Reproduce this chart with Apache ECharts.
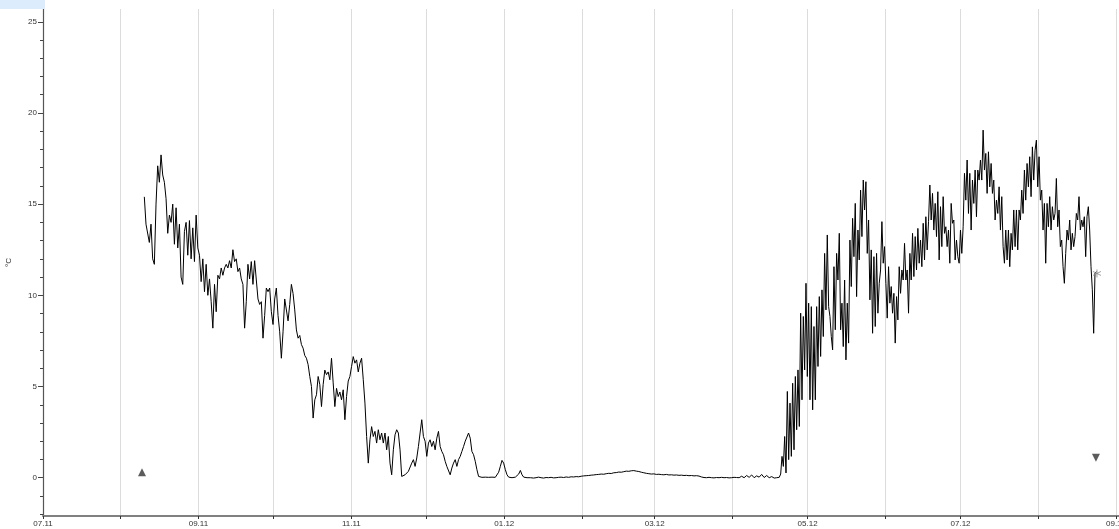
<!DOCTYPE html>
<html>
<head>
<meta charset="utf-8">
<script src="https://cdn.jsdelivr.net/npm/echarts@6/dist/echarts.min.js"></script>
<style>
  html, body { margin: 0; padding: 0; background: #fff; }
  #chart { width: 1119px; height: 529px; }
</style>
</head>
<body>
<div id="chart"></div>
<script>
const HOUR = 3600e3;
const DAY = 24 * HOUR;
const utc = (y, m, d, h) => Date.UTC(y, m - 1, d, h || 0);

// Temperature logger readings (°C), stored as runs of equally spaced samples
const autumnStart = utc(2011, 8, 10, 10);
const autumnStepHours = 16;
const autumnTemps = [
  15.4, 13.9, 14.0, 12.9, 13.9, 12.0, 11.7, 15.0, 17.1, 16.2,
  17.7, 16.6, 16.2, 15.3, 13.4, 14.4, 14.0, 15.0, 12.8, 14.8,
  12.6, 13.9, 11.0, 10.6, 13.5, 14.0, 12.2, 14.1, 12.0, 13.7,
  11.85, 14.4, 12.6, 12.2, 10.75, 12.0, 10.2, 11.7, 10.0, 10.9,
  9.65, 8.2, 10.6, 9.1, 11.1, 10.9, 11.5, 11.1, 11.5, 11.7,
  11.5, 11.9, 11.5, 12.5, 11.85, 12.0, 11.3, 11.5, 10.9, 10.6,
  8.2, 9.65, 11.7, 10.9, 11.85, 10.6, 11.9, 12.0, 9.8, 9.5,
  9.65, 7.65, 8.9, 10.4, 10.2, 10.4, 9.1, 8.4, 9.8, 10.4,
  8.9, 8.0, 6.55, 8.0, 9.8, 9.9, 8.6, 9.5, 10.6,
  10.1, 9.2, 8.1, 7.65, 7.8, 7.3, 7.1, 6.7, 6.55, 6.2,
  5.55, 5.0, 3.27, 4.27, 4.55, 5.55, 5.1, 3.9, 5.1, 5.9,
  5.65, 5.8, 5.37, 6.55, 5.2, 3.9, 4.9, 4.45, 4.7, 4.27,
  4.82, 3.18, 4.45, 5.3, 5.55, 6.1, 6.64, 6.28, 6.46, 5.8,
  6.28, 6.55, 5.37, 4.09, 2.26, 0.8, 2.08, 2.8, 2.26, 2.54,
  1.9, 2.63, 2.08, 2.45, 1.9, 2.45, 1.53, 2.26, 0.8, 0.16,
  1.53, 2.35, 2.63, 2.45, 1.53, 0.07, 0.03, 0.16, 0.2, 0.35,
  0.44, 0.8, 0.99, 0.62, 1.08, 1.71, 2.45, 3.18, 2.26, 2.0,
  1.17, 1.9, 2.08, 1.71, 2.0, 1.53, 2.17, 2.54, 1.71, 1.44,
  1.26, 0.9, 0.62, 0.53, 0.16, 0.53, 0.8, 0.99, 0.62, 0.99,
  1.17, 1.44, 1.71, 2.0, 1.9, 2.45, 2.17, 1.44, 1.26, 0.9,
  0.44, 0.07, 0.0, 0.02, -0.02, 0.03, -0.02, 0.02, -0.02, 0.03,
  0.0, 0.02, 0.12, 0.3, 0.62, 0.95, 0.8, 0.44, 0.16, 0.03,
  -0.02, 0.0, -0.02, 0.03, 0.07, 0.2, 0.4, 0.16, 0.03, -0.02,
  0.0, 0.03, 0.0
];

const winterStart = utc(2012, 1, 11, 16);
const winterStepHours = 24;
const winterTemps = [
  0.02, -0.02, 0, 0.03, 0, -0.02, 0.01, 0, 0.02, -0.01,
  0, 0.02, 0.03, 0.01, 0.04, 0.02, 0.05, 0.04, 0.06, 0.05,
  0.08, 0.1, 0.11, 0.12, 0.14, 0.15, 0.17, 0.18, 0.2, 0.19,
  0.22, 0.24, 0.23, 0.27, 0.28, 0.31, 0.3, 0.33, 0.36, 0.35,
  0.38, 0.39, 0.36, 0.34, 0.3, 0.27, 0.24, 0.22, 0.2, 0.21,
  0.18, 0.19, 0.17, 0.16, 0.18, 0.15, 0.16, 0.14, 0.15, 0.13,
  0.14, 0.12, 0.13, 0.11, 0.12, 0.1, 0.11, 0.09, 0.04, 0.01,
  0, 0.02, 0, -0.01, 0.01, 0, 0.02, 0, 0.01, -0.01,
  0, 0.02, 0.01, 0, 0.08, 0, 0.12, 0.02, 0.15, 0,
  0.1, 0.03, 0.18, 0.01, 0.12, 0, 0.06, -0.02, 0, 0.02
];

const summerStart = utc(2012, 4, 20, 6);
const summerStepHours = 12.75;
const summerTemps = [
  0.2, 1.17, 0.62, 2.26, 0.26, 4.73, 0.99, 4.09, 1.17, 5.18,
  1.53, 5.55, 2.63, 5.91, 2.81, 9.02, 4.27, 8.84, 5.91, 10.66,
  5.55, 9.57, 4.27, 9.38, 3.72, 8.29, 4.27, 9.38, 6.1, 9.93,
  6.65, 10.3, 7.74, 12.3, 9.2, 13.31, 9.38, 8.84, 7.74, 7.01,
  11.57, 8.11, 12.3, 10.84, 13.4, 8.11, 9.57, 7.19, 10.84, 6.46,
  9.57, 7.38, 13.03, 10.48, 14.22, 12.12, 15.04, 9.93, 13.58, 11.94,
  15.77, 13.22, 16.32, 14.68, 16.23, 12.3, 14.13, 9.75, 12.49, 7.92,
  12.12, 8.29, 12.3, 9.02, 10.66, 11.39, 14.04, 11.76, 12.67, 10.66,
  8.75, 11.57, 9.57, 10.48, 9.02, 10.11, 7.38, 9.93, 8.65, 11.57,
  10.11, 11.39, 10.84, 12.85, 10.84, 11.39, 9.02, 12.3, 10.84, 13.4,
  11.03, 13.22, 11.39, 13.67, 11.76, 13.03, 11.57, 13.95, 11.94, 14.31,
  12.49, 14.04, 16.05, 14.13, 15.59, 13.58, 15.04, 13.22, 15.68, 11.94,
  14.86, 12.67, 15.41, 13.4, 13.76, 12.67, 13.58, 11.76, 15.04, 13.95,
  14.13, 11.94, 13.03, 12.12, 11.76,
  13.58, 12.3, 13.76, 16.69, 15.22, 17.42, 14.49, 16.69, 13.58, 16.32,
  15.04, 16.87, 14.31, 16.87, 16.32, 17.42, 16.32, 19.06, 16.87, 17.78,
  15.59, 17.87, 15.95, 17.23, 15.59, 16.32, 14.13, 15.22, 14.49, 15.95,
  13.58, 15.41, 12.67, 11.76, 13.58, 11.94, 13.58, 11.57, 13.4, 12.49,
  14.68, 12.67, 14.68, 12.49, 14.68, 14.13, 15.77, 14.49, 16.87, 15.22,
  17.23, 15.95, 17.6, 15.41, 18.14, 16.32, 17.96, 18.51, 15.95, 17.6,
  15.22, 15.77, 13.58, 15.04, 11.76, 15.04, 13.76, 15.41, 13.58, 14.86,
  14.13, 14.49, 16.41, 13.76, 14.68, 12.67, 13.03, 11.57, 10.66, 12.3,
  13.58, 13.03, 14.13, 12.49, 13.4, 12.67, 13.22, 14.49, 14.13, 15.41,
  13.58, 14.13, 13.76, 14.31, 12.12, 14.31, 14.86, 13.58, 11.57, 10.3,
  7.92, 11.21, 11.3
];

// Logger events: start, stop and last reading
const startMark = [utc(2011, 8, 9, 12), 0.3];
const stopMark = [utc(2012, 8, 24, 0), 1.1];
const lastReading = [utc(2012, 8, 24, 10), 11.2];

// Axis ticks
const monthTicks = [
  '2011-07', '2011-08', '2011-09', '2011-10', '2011-11', '2011-12',
  '2012-01', '2012-02', '2012-03', '2012-04', '2012-05', '2012-06',
  '2012-07', '2012-08', '2012-09'
];
const labelledMonths = ['2011-07', '2011-09', '2011-11', '2012-01', '2012-03', '2012-05', '2012-07', '2012-09'];
const tempTicks = [0, 5, 10, 15, 20, 25];
const minorTempTicks = [-2, -1, 1, 2, 3, 4, 6, 7, 8, 9, 11, 12, 13, 14, 16, 17, 18, 19, 21, 22, 23, 24];

const monthTime = s => { const [y, m] = s.split('-').map(Number); return utc(y, m, 1); };
const run = (start, stepHours, temps) => temps.map((t, i) => [start + i * stepHours * HOUR, t]);

const readings = [].concat(
  run(autumnStart, autumnStepHours, autumnTemps),
  run(winterStart, winterStepHours, winterTemps),
  run(summerStart, summerStepHours, summerTemps)
);

const xMin = monthTime('2011-07');
const xMax = xMin + 429.2 * DAY;
const pad2 = n => (n < 10 ? '0' : '') + n;
const monthLabel = v => { const d = new Date(v); return pad2(d.getUTCMonth() + 1) + '.' + String(d.getUTCFullYear()).slice(2); };
const FONT = 'Liberation Sans, Arial, sans-serif';

const chart = echarts.init(document.getElementById('chart'), null, { renderer: 'canvas' });
chart.setOption({
  animation: false,
  backgroundColor: '#ffffff',
  grid: { left: 43, right: 0, top: 9, bottom: 13, containLabel: false, outerBoundsMode: 'none' },
  graphic: [{
    type: 'rect', left: 0, top: 0, z: 10,
    shape: { width: 45, height: 9 },
    style: { fill: '#dcecfc' }
  }],
  xAxis: {
    type: 'value',
    min: xMin,
    max: xMax,
    axisLine: { show: true, onZero: false, lineStyle: { color: '#808080', width: 2 } },
    axisTick: {
      show: true, length: 3, customValues: monthTicks.map(monthTime),
      lineStyle: { color: '#333', width: 1 }
    },
    axisLabel: {
      customValues: labelledMonths.map(monthTime),
      formatter: monthLabel,
      margin: 4, fontSize: 8, fontFamily: FONT, color: '#333',
      showMinLabel: true, showMaxLabel: true
    },
    splitLine: { show: true, lineStyle: { color: '#dcdcdc', width: 1 } }
  },
  yAxis: [{
    type: 'value',
    position: 'left',
    min: -2.1,
    max: 25.7,
    name: '°C',
    nameLocation: 'middle',
    nameRotate: 90,
    nameGap: 30,
    nameTextStyle: { fontSize: 8, fontFamily: FONT, color: '#333' },
    axisLine: { show: true, lineStyle: { color: '#555', width: 1.2 } },
    axisTick: { show: true, length: 5, customValues: tempTicks, lineStyle: { color: '#444' } },
    axisLabel: { customValues: tempTicks, margin: 6, fontSize: 8, fontFamily: FONT, color: '#333' },
    splitLine: { show: false }
  }, {
    type: 'value',
    position: 'left',
    min: -2.1,
    max: 25.7,
    axisLine: { show: false },
    axisTick: { show: true, length: 3, customValues: minorTempTicks, lineStyle: { color: '#444' } },
    axisLabel: { show: false },
    splitLine: { show: false }
  }],
  series: [{
    type: 'line',
    data: readings,
    showSymbol: false,
    sampling: 'none',
    lineStyle: { color: '#000', width: 1 },
    z: 3
  }, {
    type: 'scatter',
    data: [startMark],
    symbol: 'triangle',
    symbolSize: 8,
    itemStyle: { color: '#333' },
    z: 4
  }, {
    type: 'scatter',
    data: [stopMark],
    symbol: 'triangle',
    symbolRotate: 180,
    symbolSize: 8,
    itemStyle: { color: '#333' },
    z: 4
  }, {
    type: 'scatter',
    data: [lastReading],
    symbol: 'path://M5 0L5 10M0.7 2.5L9.3 7.5M0.7 7.5L9.3 2.5',
    symbolSize: 8,
    itemStyle: { color: 'transparent', borderColor: '#888', borderWidth: 1 },
    z: 5
  }]
});
</script>
</body>
</html>
